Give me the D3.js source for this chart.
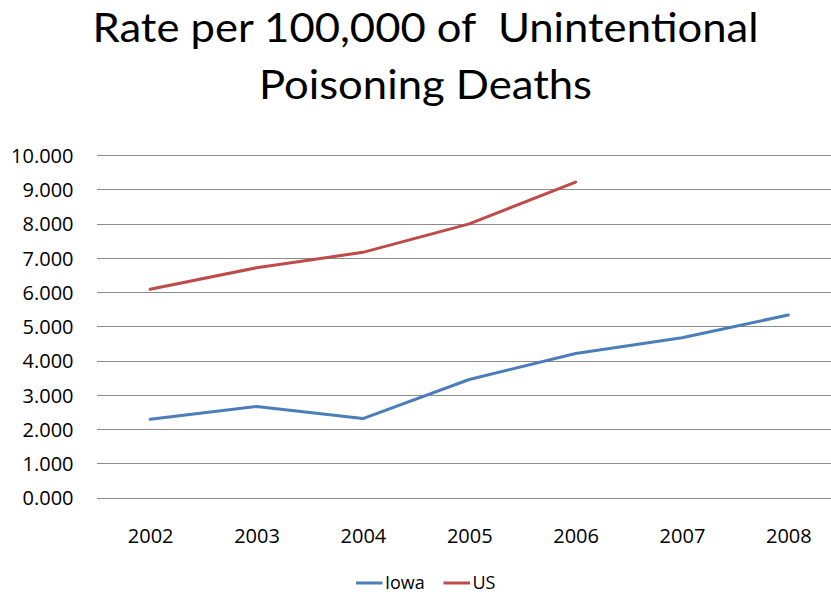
<!DOCTYPE html>
<html>
<head>
<meta charset="utf-8">
<script src="https://cdn.jsdelivr.net/npm/d3@7"></script>
<style>
  html, body { margin: 0; padding: 0; background: #fff; }
  svg { display: block; }
  text { font-family: "Open Sans", sans-serif; fill: #000; }
  text.title { font-family: Lato, sans-serif; }
</style>
</head>
<body>
<script>
// Years along the category axis
const years = ["2002", "2003", "2004", "2005", "2006", "2007", "2008"];
// Rate per 100,000 population
const iowaRates = [2.29, 2.66, 2.31, 3.45, 4.21, 4.67, 5.33];
const usRates = [6.08, 6.71, 7.16, 7.99, 9.21];
// Value axis ticks
const yTicks = [0, 1, 2, 3, 4, 5, 6, 7, 8, 9, 10];
const titleLines = ["Rate per 100,000 of  Unintentional", "Poisoning Deaths"];
const seriesNames = ["Iowa", "US"];

const W = 831, H = 595;
const colors = { Iowa: "#4a7ebb", US: "#be4b48" };

const svg = d3.select("body").append("svg")
  .attr("width", W).attr("height", H);

const x = d3.scalePoint().domain(years).range([97, 841.5]).padding(0.5);
const y = d3.scaleLinear().domain([0, 10]).range([497.7, 155]);

// Title, two centred lines
const titleWidths = [666, 333];
svg.selectAll("text.title").data(titleLines).join("text")
  .attr("class", "title")
  .attr("x", 425.5)
  .attr("y", (d, i) => 42 + i * 57)
  .attr("text-anchor", "middle")
  .style("font-size", "40px")
  .style("white-space", "pre")
  .attr("textLength", (d, i) => titleWidths[i])
  .attr("lengthAdjust", "spacingAndGlyphs")
  .text(d => d);

// Horizontal gridlines
svg.append("g").selectAll("line").data(yTicks).join("line")
  .attr("x1", 97).attr("x2", 841.5)
  .attr("y1", d => Math.round(y(d)) + 0.5).attr("y2", d => Math.round(y(d)) + 0.5)
  .attr("stroke", "#8c8c8c").attr("stroke-width", 1.2);

// Value axis labels
const yAxis = d3.axisLeft(y).tickValues(yTicks).tickFormat(d3.format(".3f")).tickSize(0).tickPadding(0);
const gy = svg.append("g").attr("transform", "translate(73.5,0)").call(yAxis);
gy.select(".domain").remove();
gy.attr("font-family", null).attr("font-size", null);
gy.selectAll("text").style("font-size", "20px").attr("dy", "0.36em");

// Category axis labels
const xAxis = d3.axisBottom(x).tickSize(0).tickPadding(0);
const gx = svg.append("g").attr("transform", "translate(0,543.3)").call(xAxis);
gx.select(".domain").remove();
gx.attr("font-family", null).attr("font-size", null);
gx.selectAll("text").style("font-size", "20px").attr("dy", "0");

// Series lines
const line = d3.line().x((d, i) => x(years[i])).y(d => y(d));
const series = [
  { name: "Iowa", values: iowaRates },
  { name: "US", values: usRates }
];
svg.append("g").selectAll("path").data(series).join("path")
  .attr("d", d => line(d.values))
  .attr("fill", "none")
  .attr("stroke", d => colors[d.name])
  .attr("stroke-width", 3)
  .attr("stroke-linejoin", "round")
  .attr("stroke-linecap", "round");

// Legend
const legendPos = [{ lx: 356, tx: 385 }, { lx: 443.5, tx: 472.5 }];
const lg = svg.append("g").selectAll("g").data(seriesNames).join("g");
lg.append("line")
  .attr("x1", (d, i) => legendPos[i].lx).attr("x2", (d, i) => legendPos[i].lx + 26.5)
  .attr("y1", 583).attr("y2", 583)
  .attr("stroke", d => colors[d]).attr("stroke-width", 3);
lg.append("text")
  .attr("x", (d, i) => legendPos[i].tx)
  .attr("y", 589)
  .style("font-size", "18px")
  .text(d => d);
</script>
</body>
</html>
